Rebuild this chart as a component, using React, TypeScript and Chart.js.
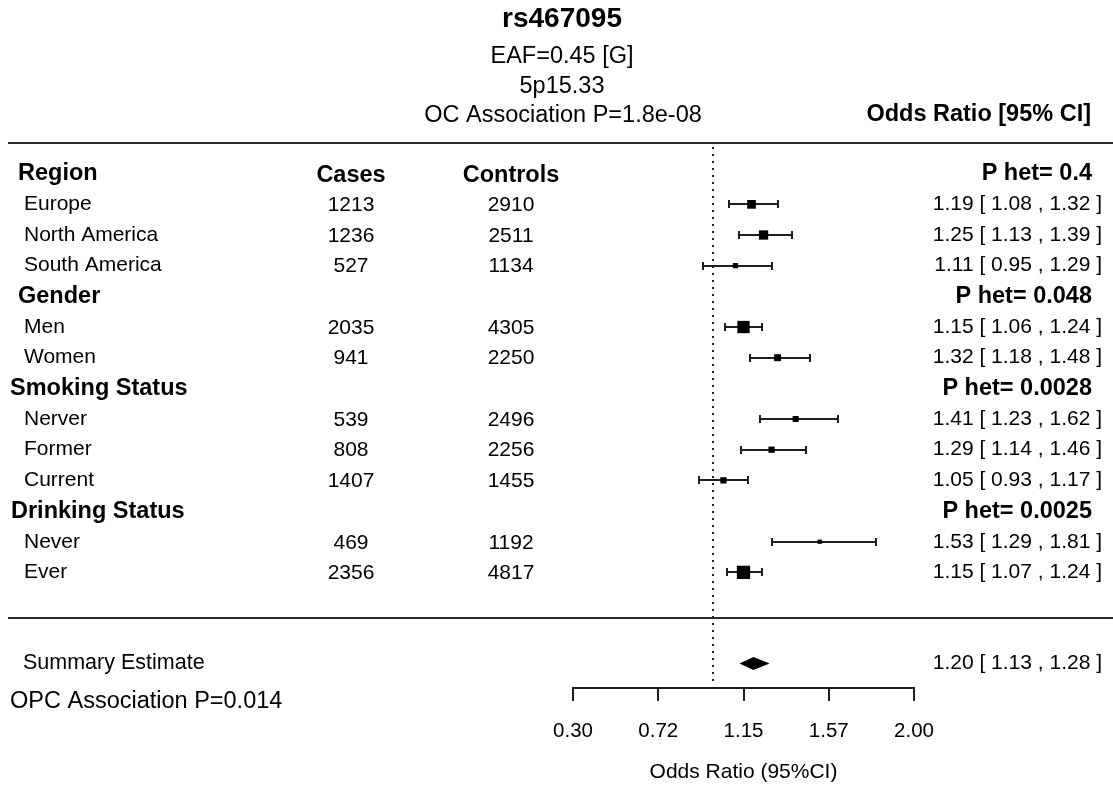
import React, { useEffect, useRef } from "react";
import { Chart, registerables } from "chart.js";

Chart.register(...registerables);

// ---- data ----
const snpTitle = "rs467095";
const subtitleLines = ["EAF=0.45 [G]", "5p15.33", "OC Association P=1.8e-08"];
const ciHeader = "Odds Ratio [95% CI]";
const columnHeaders = ["Cases", "Controls"];

const groupNames = ["Region", "Gender", "Smoking Status", "Drinking Status"];
const groupPHet = ["0.4", "0.048", "0.0028", "0.0025"];
const groupSizes = [3, 2, 3, 2];

const subgroupLabels = ["Europe", "North America", "South America", "Men", "Women", "Nerver", "Former", "Current", "Never", "Ever"];
const cases = [1213, 1236, 527, 2035, 941, 539, 808, 1407, 469, 2356];
const controls = [2910, 2511, 1134, 4305, 2250, 2496, 2256, 1455, 1192, 4817];
const oddsRatio = [1.19, 1.25, 1.11, 1.15, 1.32, 1.41, 1.29, 1.05, 1.53, 1.15];
const ciLower = [1.08, 1.13, 0.95, 1.06, 1.18, 1.23, 1.14, 0.93, 1.29, 1.07];
const ciUpper = [1.32, 1.39, 1.29, 1.24, 1.48, 1.62, 1.46, 1.17, 1.81, 1.24];

const summaryLabel = "Summary Estimate";
const summaryOR = 1.2;
const summaryLower = 1.13;
const summaryUpper = 1.28;
const opcLabel = "OPC Association P=0.014";

const xTickValues = [0.3, 0.725, 1.15, 1.575, 2.0];
const xTickLabels = ["0.30", "0.72", "1.15", "1.57", "2.00"];
const xAxisTitle = "Odds Ratio (95%CI)";

// ---- styling ----
const boxSizes = [8.7, 9.3, 5.3, 12.3, 7, 6, 6.3, 6.3, 4.3, 13.3];
const FONT = '"Liberation Sans", Arial, Helvetica, sans-serif';
const INK = "#000";
const LINE = "#1e1e1e";

// row layout: each group has a header row followed by its subgroup rows
const groupRows: number[] = [];
const subRows: number[] = [];
{
  let r = 0;
  groupSizes.forEach((n) => {
    groupRows.push(r++);
    for (let i = 0; i < n; i++) subRows.push(r++);
  });
}
const lastRow = subRows[subRows.length - 1];
const separatorRow = lastRow + 1.5;
const summaryRow = lastRow + 3;

const fmt = (v: number) => v.toFixed(2);

function drawText(ctx: CanvasRenderingContext2D, str: string, x: number, y: number, size: number, bold: boolean, align: CanvasTextAlign) {
  ctx.font = `${bold ? "bold " : ""}${size}px ${FONT}`;
  ctx.textAlign = align;
  ctx.textBaseline = "middle";
  ctx.fillStyle = INK;
  ctx.fillText(str, x, y);
}

const forestPlugin = {
  id: "forestPlot",
  beforeDatasetsDraw(chart: any) {
    const { ctx, chartArea, scales } = chart;
    const xs = scales.x;
    const ys = scales.y;
    ctx.save();
    // null-effect reference line at OR = 1
    const x1 = Math.round(xs.getPixelForValue(1));
    ctx.strokeStyle = LINE;
    ctx.lineWidth = 2;
    ctx.setLineDash([2, 5]);
    ctx.beginPath();
    ctx.moveTo(x1, chartArea.top + 4);
    ctx.lineTo(x1, chartArea.bottom - 2);
    ctx.stroke();
    ctx.setLineDash([]);

    // confidence interval whiskers
    ctx.strokeStyle = LINE;
    ctx.lineWidth = 2;
    subRows.forEach((row, i) => {
      const y = Math.round(ys.getPixelForValue(row));
      const xl = Math.round(xs.getPixelForValue(ciLower[i]));
      const xu = Math.round(xs.getPixelForValue(ciUpper[i]));
      ctx.beginPath();
      ctx.moveTo(xl, y);
      ctx.lineTo(xu, y);
      ctx.moveTo(xl, y - 4);
      ctx.lineTo(xl, y + 4);
      ctx.moveTo(xu, y - 4);
      ctx.lineTo(xu, y + 4);
      ctx.stroke();
    });
    ctx.restore();
  },
  afterDatasetsDraw(chart: any) {
    const { ctx, scales } = chart;
    const xs = scales.x;
    const ys = scales.y;
    // pooled estimate diamond
    const y = ys.getPixelForValue(summaryRow) - 1;
    ctx.save();
    ctx.fillStyle = INK;
    ctx.beginPath();
    ctx.moveTo(xs.getPixelForValue(summaryLower), y);
    ctx.lineTo(xs.getPixelForValue(summaryOR), y - 6.5);
    ctx.lineTo(xs.getPixelForValue(summaryUpper), y);
    ctx.lineTo(xs.getPixelForValue(summaryOR), y + 6.5);
    ctx.closePath();
    ctx.fill();
    ctx.restore();
  },
  afterDraw(chart: any) {
    const { ctx, scales, width } = chart;
    const ys = scales.y;
    ctx.save();

    // heading block
    drawText(ctx, snpTitle, 562, 19, 28, true, "center");
    drawText(ctx, subtitleLines[0], 562, 57, 23.5, false, "center");
    drawText(ctx, subtitleLines[1], 562, 87, 23.5, false, "center");
    drawText(ctx, subtitleLines[2], 563, 116, 23.5, false, "center");
    drawText(ctx, ciHeader, 1091, 115, 23.5, true, "right");

    // horizontal rules
    ctx.fillStyle = "#2a2a2a";
    ctx.fillRect(8, Math.round(ys.getPixelForValue(-1)) - 1, width - 8, 2);
    ctx.fillRect(8, Math.round(ys.getPixelForValue(separatorRow)) - 1, width - 8, 2);

    // column headers
    const y0 = ys.getPixelForValue(groupRows[0]);
    drawText(ctx, columnHeaders[0], 351, y0 + 2, 23.5, true, "center");
    drawText(ctx, columnHeaders[1], 511, y0 + 2, 23.5, true, "center");

    // group headers with heterogeneity p-values
    const groupX = [18, 18, 10, 11];
    groupRows.forEach((row, g) => {
      const y = ys.getPixelForValue(row);
      drawText(ctx, groupNames[g], groupX[g], y, 23.5, true, "left");
      drawText(ctx, `P het= ${groupPHet[g]}`, 1092, y, 23.5, true, "right");
    });

    // subgroup rows
    subRows.forEach((row, i) => {
      const y = ys.getPixelForValue(row);
      drawText(ctx, subgroupLabels[i], 24, y, 21, false, "left");
      drawText(ctx, String(cases[i]), 351, y + 1, 21, false, "center");
      drawText(ctx, String(controls[i]), 511, y + 1, 21, false, "center");
      drawText(ctx, `${fmt(oddsRatio[i])} [ ${fmt(ciLower[i])} , ${fmt(ciUpper[i])} ]`, 1102, y, 21, false, "right");
    });

    // summary row
    const ySum = ys.getPixelForValue(summaryRow);
    drawText(ctx, summaryLabel, 23, ySum - 1, 21.5, false, "left");
    drawText(ctx, `${fmt(summaryOR)} [ ${fmt(summaryLower)} , ${fmt(summaryUpper)} ]`, 1102, ySum - 1, 21, false, "right");
    drawText(ctx, opcLabel, 10, ySum + 37, 23.5, false, "left");

    ctx.restore();
  },
};

export default function App() {
  const canvasRef = useRef<HTMLCanvasElement | null>(null);

  useEffect(() => {
    const canvas = canvasRef.current;
    if (!canvas) return;
    const chart = new Chart(canvas, {
      type: "scatter",
      data: {
        datasets: [
          {
            label: "Odds ratio",
            data: oddsRatio.map((v, i) => ({ x: v, y: subRows[i] })),
            pointStyle: "rect",
            pointRadius: boxSizes.map((s) => s / Math.SQRT2),
            pointHoverRadius: boxSizes.map((s) => s / Math.SQRT2),
            pointBackgroundColor: INK,
            pointBorderWidth: 0,
            showLine: false,
          },
        ],
      },
      options: {
        animation: false,
        responsive: false,
        devicePixelRatio: 1,
        layout: { padding: { left: 573, right: 199, top: 143, bottom: 0 } },
        plugins: {
          legend: { display: false },
          tooltip: { enabled: false },
          title: { display: false },
        },
        scales: {
          x: {
            type: "linear",
            position: "bottom",
            min: 0.3,
            max: 2.0,
            afterBuildTicks: (scale: any) => {
              scale.ticks = xTickValues.map((v) => ({ value: v }));
            },
            afterFit: (scale: any) => {
              scale.height = 98;
            },
            grid: {
              drawOnChartArea: false,
              drawTicks: true,
              tickLength: 13,
              color: LINE,
              lineWidth: 2,
            },
            border: { display: true, color: LINE, width: 2 },
            ticks: {
              padding: 18,
              color: INK,
              font: { family: FONT, size: 20.5 },
              maxRotation: 0,
              autoSkip: false,
              callback: (_v: any, i: number) => xTickLabels[i],
            },
            title: {
              display: true,
              text: xAxisTitle,
              color: INK,
              font: { family: FONT, size: 21 },
              padding: { top: 0, bottom: 1 },
            },
          },
          y: {
            type: "linear",
            display: false,
            reverse: true,
            min: -1,
            max: summaryRow + 0.77,
          },
        },
      },
      plugins: [forestPlugin],
    });
    return () => chart.destroy();
  }, []);

  return (
    <div style={{ position: "fixed", left: 0, top: 0, width: 1113, height: 786, background: "#fff" }}>
      <canvas ref={canvasRef} width={1113} height={786} style={{ display: "block" }} />
    </div>
  );
}
